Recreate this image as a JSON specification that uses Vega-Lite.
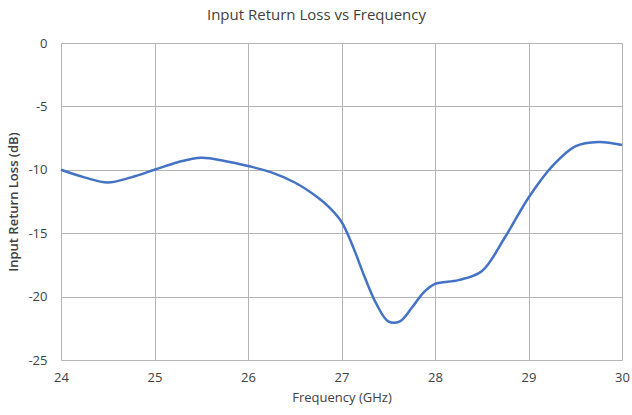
{
  "$schema": "https://vega.github.io/schema/vega-lite/v6.json",
  "autosize": "none",
  "width": 561,
  "height": 317,
  "padding": {"left": 61, "top": 43, "right": 10, "bottom": 55},
  "background": "white",
  "title": {
    "text": "Input Return Loss vs Frequency",
    "font": "Open Sans",
    "fontSize": 15,
    "fontWeight": "normal",
    "color": "#404040",
    "anchor": "middle",
    "dx": -25,
    "offset": 14
  },
  "config": {
    "view": {"stroke": null},
    "axis": {
      "labelFont": "Open Sans",
      "titleFont": "Open Sans",
      "labelColor": "#404040",
      "titleColor": "#404040",
      "labelFontSize": 13,
      "titleFontSize": 13,
      "gridColor": "#b4b4b4",
      "gridWidth": 1,
      "domain": false,
      "ticks": false
    }
  },
  "data": {
    "values": [
      {"f": 24.0, "rl": -10.0},
      {"f": 24.25, "rl": -10.6},
      {"f": 24.5, "rl": -11.0},
      {"f": 24.75, "rl": -10.6},
      {"f": 25.0, "rl": -10.0},
      {"f": 25.25, "rl": -9.4},
      {"f": 25.5, "rl": -9.05},
      {"f": 25.75, "rl": -9.3},
      {"f": 26.0, "rl": -9.7},
      {"f": 26.25, "rl": -10.2},
      {"f": 26.5, "rl": -11.0},
      {"f": 26.75, "rl": -12.2},
      {"f": 26.875, "rl": -13.0},
      {"f": 27.0, "rl": -14.1},
      {"f": 27.125, "rl": -16.1},
      {"f": 27.25, "rl": -18.5},
      {"f": 27.375, "rl": -20.6},
      {"f": 27.5, "rl": -21.95},
      {"f": 27.625, "rl": -21.95},
      {"f": 27.75, "rl": -20.9},
      {"f": 27.875, "rl": -19.7},
      {"f": 28.0, "rl": -19.0},
      {"f": 28.25, "rl": -18.7},
      {"f": 28.5, "rl": -18.0},
      {"f": 28.75, "rl": -15.3},
      {"f": 29.0, "rl": -12.2},
      {"f": 29.25, "rl": -9.75},
      {"f": 29.5, "rl": -8.15},
      {"f": 29.75, "rl": -7.8},
      {"f": 30.0, "rl": -8.05}
    ]
  },
  "mark": {"type": "line", "interpolate": "catmull-rom", "color": "#4472C4", "strokeWidth": 2.5},
  "encoding": {
    "x": {
      "field": "f",
      "type": "quantitative",
      "scale": {"domain": [24, 30], "nice": false, "zero": false},
      "axis": {"values": [24, 25, 26, 27, 28, 29, 30], "title": "Frequency (GHz)", "titleFontWeight": "normal", "labelPadding": 11, "titlePadding": 7, "labelFlush": false}
    },
    "y": {
      "field": "rl",
      "type": "quantitative",
      "scale": {"domain": [-25, 0], "nice": false},
      "axis": {"values": [-25, -20, -15, -10, -5, 0], "labelExpr": "'' + datum.value", "title": "Input Return Loss (dB)", "titleFontWeight": 600, "labelPadding": 14, "titlePadding": 7}
    }
  }
}
